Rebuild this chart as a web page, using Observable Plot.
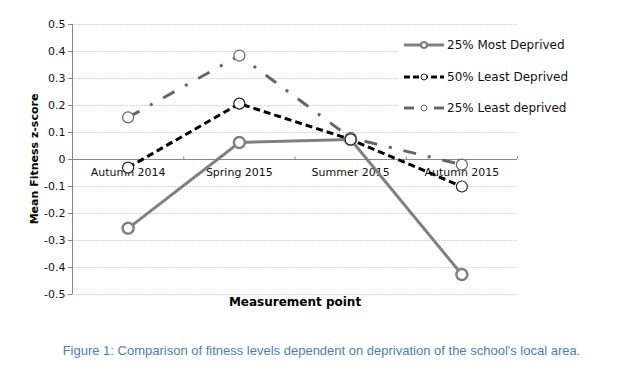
<!DOCTYPE html>
<html>
<head>
<meta charset="utf-8">
<script src="https://cdn.jsdelivr.net/npm/d3@7"></script>
<script src="https://cdn.jsdelivr.net/npm/@observablehq/plot@0.6"></script>
<style>
  html, body { margin: 0; padding: 0; background: #fff; }
  #wrap { position: relative; width: 643px; height: 383px; }
  #caption { position: absolute; left: 0; top: 343px; width: 643px; text-align: center;
    font-family: "Liberation Sans", Arial, sans-serif; font-size: 13px; color: #4a7ebb; }
  #legend { position: absolute; left: 0; top: 0; }
</style>
</head>
<body>
<div id="wrap"><div id="chart"></div><svg id="legend" width="643" height="140"></svg><div id="caption"></div></div>
<script>
const categories = ["Autumn 2014", "Spring 2015", "Summer 2015", "Autumn 2015"];
const seriesNames = ["25% Most Deprived", "50% Least Deprived", "25% Least deprived"];
const mostDeprived25 = [-0.255, 0.063, 0.074, -0.426];
const leastDeprived50 = [-0.03, 0.207, 0.074, -0.10];
const leastDeprived25 = [0.156, 0.385, 0.08, -0.019];
const yTicks = [-0.5, -0.4, -0.3, -0.2, -0.1, 0, 0.1, 0.2, 0.3, 0.4, 0.5];
const captionText = "Figure 1: Comparison of fitness levels dependent on deprivation of the school's local area.";
const xTitle = "Measurement point";
const yTitle = "Mean Fitness z-score";

const styles = [
  {stroke: "#808080", width: 3, dash: null, r: 5.5, mStroke: "#808080", mWidth: 2.5},
  {stroke: "#000000", width: 3, dash: "7,4", r: 5.5, mStroke: "#222222", mWidth: 1.2},
  {stroke: "#666666", width: 3, dash: "13,12,3,12", r: 5.5, mStroke: "#666666", mWidth: 1.2}
];
const values = [mostDeprived25, leastDeprived50, leastDeprived25];
const series = values.map((vals, s) => vals.map((v, i) => ({s, x: i + 0.5, cat: categories[i], y: v})));

const font = "'DejaVu Sans', Verdana, sans-serif";
const bounds = d3.range(1, categories.length + 1);
const catData = categories.map((c, i) => ({c, x: i + 0.5}));

const marks = [
  Plot.ruleY(yTicks.filter(d => d !== 0), {y: d => d, stroke: "#d6d6d6", strokeDasharray: "2,1", strokeWidth: 1}),
  Plot.ruleX([0], {x: d => d, y1: -0.5, y2: 0.5, stroke: "#888", strokeWidth: 1}),
  Plot.ruleY([0], {y: d => d, x1: 0, x2: 4, stroke: "#888", strokeWidth: 1}),
  Plot.ruleX(bounds, {x: d => d, y1: 0, y2: 0.01, stroke: "#888"}),
  Plot.text(catData, {x: "x", y: () => 0, dy: 13, text: "c", fontSize: 11, fill: "#111"}),
  Plot.text([xTitle], {x: () => 2, y: () => -0.5, dy: 8, text: d => d, fontSize: 12, fontWeight: "bold", fill: "#000"}),
];
[2, 0, 1].forEach(s => {
  const st = styles[s];
  marks.push(Plot.line(series[s], {x: "x", y: "y", stroke: st.stroke, strokeWidth: st.width, strokeDasharray: st.dash, strokeLinecap: "butt"}));
});
[2, 0, 1].forEach(s => {
  const st = styles[s];
  marks.push(Plot.dot(series[s], {x: "x", y: "y", r: st.r, fill: "white", stroke: st.mStroke, strokeWidth: st.mWidth}));
});

const chart = Plot.plot({
  width: 643,
  height: 330,
  marginLeft: 72,
  marginRight: 126,
  marginTop: 24,
  marginBottom: 36,
  style: {fontFamily: font, background: "white"},
  x: {type: "linear", domain: [0, 4], axis: null},
  y: {type: "linear", domain: [-0.5, 0.5], axis: null},
  marks: [
    Plot.axisY({ticks: yTicks, tickSize: 4, tickPadding: 3, fontSize: 11, stroke: "#888",
      tickFormat: d => Math.abs(d) < 1e-9 ? "0" : d.toFixed(1), label: null, color: "#111"}),
    ...marks
  ]
});
document.getElementById("chart").appendChild(chart);

const svg = d3.select(chart);
svg.append("text")
  .attr("transform", "translate(35,159) rotate(-90)")
  .attr("text-anchor", "middle")
  .attr("dominant-baseline", "middle")
  .attr("font-family", font)
  .attr("font-size", 11)
  .attr("font-weight", "bold")
  .text(yTitle);

const lg = d3.select("#legend");
lg.append("rect").attr("x", 399).attr("y", 30).attr("width", 180).attr("height", 95).attr("fill", "white");
const ly = [45, 77, 108];
seriesNames.forEach((name, s) => {
  const st = styles[s];
  const g = lg.append("g");
  g.append("line").attr("x1", 404).attr("x2", 444).attr("y1", ly[s]).attr("y2", ly[s])
    .attr("stroke", st.stroke).attr("stroke-width", st.width)
    .attr("stroke-dasharray", s === 0 ? null : (s === 1 ? "6,3" : "10,20"));
  g.append("circle").attr("cx", 424).attr("cy", ly[s]).attr("r", 3)
    .attr("fill", "white").attr("stroke", st.mStroke).attr("stroke-width", s === 0 ? 2 : 1);
  g.append("text").attr("x", 447).attr("y", ly[s]).attr("dominant-baseline", "middle")
    .attr("font-family", font).attr("font-size", 12).attr("fill", "#111").text(name);
});

document.getElementById("caption").textContent = captionText;
</script>
</body>
</html>
